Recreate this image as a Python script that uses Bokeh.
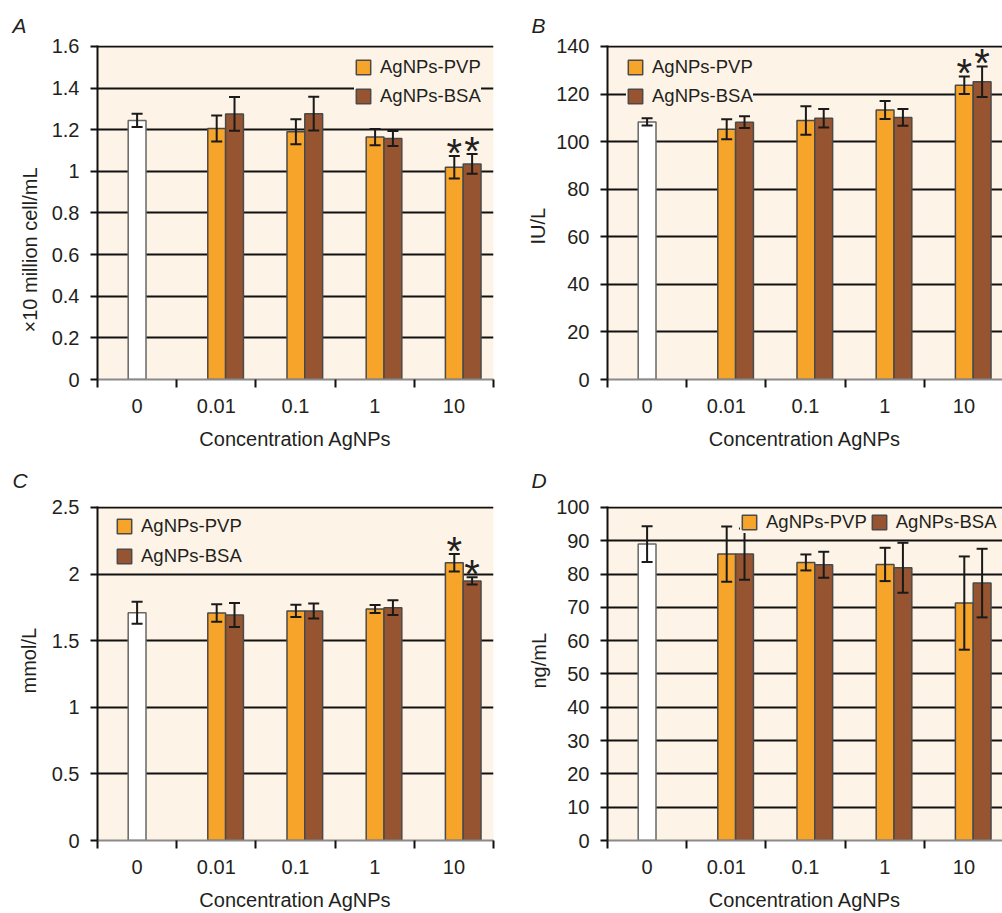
from bokeh.plotting import figure
from bokeh.layouts import row, column
from bokeh.models import (ColumnDataSource, FixedTicker, CustomJSTickFormatter, Whisker, TeeHead,
                          Legend, LegendItem, Range1d, Title)
from bokeh.core.properties import value
from bokeh.embed import file_html
from bokeh.resources import INLINE

# ---------------- data ----------------
categories = ["0", "0.01", "0.1", "1", "10"]
treated = ["0.01", "0.1", "1", "10"]
series_names = ["AgNPs-PVP", "AgNPs-BSA"]
x_title = "Concentration AgNPs"

# Panel A: x10 million cell/mL
a_ctrl = [1.245]
a_ctrl_err = [0.032]
a_pvp = [1.206, 1.19, 1.165, 1.02]
a_pvp_err = [0.063, 0.06, 0.039, 0.054]
a_bsa = [1.276, 1.277, 1.158, 1.036]
a_bsa_err = [0.081, 0.081, 0.036, 0.048]
a_pvp_sig = [False, False, False, True]
a_bsa_sig = [False, False, False, True]
a_yticks = [0, 0.2, 0.4, 0.6, 0.8, 1, 1.2, 1.4, 1.6]

# Panel B: IU/L
b_ctrl = [108.3]
b_ctrl_err = [1.5]
b_pvp = [105.2, 108.9, 113.3, 123.7]
b_pvp_err = [4.2, 6.0, 3.8, 3.7]
b_bsa = [108.2, 109.8, 110.2, 125.2]
b_bsa_err = [2.5, 3.9, 3.5, 6.4]
b_pvp_sig = [False, False, False, True]
b_bsa_sig = [False, False, False, True]
b_yticks = [0, 20, 40, 60, 80, 100, 120, 140]

# Panel C: mmol/L
c_ctrl = [1.71]
c_ctrl_err = [0.083]
c_pvp = [1.708, 1.723, 1.738, 2.085]
c_pvp_err = [0.065, 0.046, 0.03, 0.066]
c_bsa = [1.693, 1.723, 1.748, 1.949]
c_bsa_err = [0.09, 0.056, 0.055, 0.027]
c_pvp_sig = [False, False, False, True]
c_bsa_sig = [False, False, False, True]
c_yticks = [0, 0.5, 1, 1.5, 2, 2.5]

# Panel D: ng/mL
d_ctrl = [89.0]
d_ctrl_err = [5.4]
d_pvp = [86.0, 83.5, 82.9, 71.3]
d_pvp_err = [8.3, 2.4, 5.0, 14.0]
d_bsa = [86.0, 82.8, 81.9, 77.3]
d_bsa_err = [7.7, 3.9, 7.5, 10.3]
d_pvp_sig = [False, False, False, False]
d_bsa_sig = [False, False, False, False]
d_yticks = [0, 10, 20, 30, 40, 50, 60, 70, 80, 90, 100]

# ---------------- style ----------------
FONT = "Liberation Sans"
TXT = "#231f20"
BG = "#fdf4e7"
ORANGE = "#f6a42a"
BROWN = "#975430"
CTRL = "#ffffff"
EDGE = "#4a4a4a"
BAR_W = 0.225
PVP_OFF = 0.005
BSA_OFF = PVP_OFF + BAR_W
FRAME_H = 335


def make_panel(letter, ylabel, ymax, yticks, ctrl, ctrl_err, pvp, pvp_err, bsa, bsa_err,
               pvp_sig, bsa_sig, width, height, borders, x_end, legend_loc, legend_orient,
               legend_spacing, letter_off, letter_standoff, ylab_off, ylab_standoff,
               xlab_standoff):
    p = figure(width=width, height=height, x_range=Range1d(0, x_end),
               y_range=Range1d(0, ymax * (1 + 1.0 / FRAME_H)),
               output_backend="svg", toolbar_location=None,
               min_border_left=borders[0], min_border_right=borders[1],
               min_border_top=borders[2], min_border_bottom=borders[3])
    p.background_fill_color = BG
    p.border_fill_color = "white"
    p.outline_line_color = None
    p.xgrid.grid_line_color = None
    p.ygrid.grid_line_color = "#111111"
    p.ygrid.grid_line_width = 2
    p.ygrid.ticker = FixedTicker(ticks=yticks)

    # panel letter
    p.title.text = letter
    p.title.align = "left"
    p.title.offset = letter_off
    p.title.standoff = letter_standoff
    p.title.text_font = FONT
    p.title.text_font_size = "21px"
    p.title.text_font_style = "italic"
    p.title.text_color = TXT

    # control bar
    cx = [categories.index("0") + 0.5]
    src_c = ColumnDataSource(dict(x=cx, top=ctrl, upper=[v + e for v, e in zip(ctrl, ctrl_err)],
                                  lower=[v - e for v, e in zip(ctrl, ctrl_err)]))
    p.vbar(x="x", top="top", width=BAR_W, bottom=0, source=src_c,
           fill_color=CTRL, line_color="#666666", line_width=1.5)

    px = [categories.index(c) + 0.5 + PVP_OFF for c in treated]
    bx = [categories.index(c) + 0.5 + BSA_OFF for c in treated]
    src_p = ColumnDataSource(dict(x=px, top=pvp, upper=[v + e for v, e in zip(pvp, pvp_err)],
                                  lower=[v - e for v, e in zip(pvp, pvp_err)]))
    src_b = ColumnDataSource(dict(x=bx, top=bsa, upper=[v + e for v, e in zip(bsa, bsa_err)],
                                  lower=[v - e for v, e in zip(bsa, bsa_err)]))
    r_p = p.vbar(x="x", top="top", width=BAR_W, bottom=0, source=src_p,
                 fill_color=ORANGE, line_color=EDGE, line_width=1.5)
    r_b = p.vbar(x="x", top="top", width=BAR_W, bottom=0, source=src_b,
                 fill_color=BROWN, line_color=EDGE, line_width=1.5)

    for src in (src_c, src_p, src_b):
        w = Whisker(base="x", upper="upper", lower="lower", source=src, dimension="height",
                    line_color="#1a1a1a", line_width=2, level="annotation",
                    upper_head=TeeHead(size=11, line_width=2, line_color="#1a1a1a"),
                    lower_head=TeeHead(size=11, line_width=2, line_color="#1a1a1a"))
        p.add_layout(w)

    # significance asterisks
    sx, sy = [], []
    for x, v, e, s in zip(px, pvp, pvp_err, pvp_sig):
        if s:
            sx.append(x); sy.append(v + e)
    for x, v, e, s in zip(bx, bsa, bsa_err, bsa_sig):
        if s:
            sx.append(x); sy.append(v + e)
    if sx:
        p.text(x=sx, y=sy, text=["*"] * len(sx), text_align="center", text_baseline="alphabetic",
               y_offset=-3, text_font=value(FONT), text_font_size=value("40px"),
               text_color=TXT)

    # axes
    xa = p.xaxis[0]
    xa.ticker = FixedTicker(ticks=[i + 0.5 for i in range(len(categories))],
                            minor_ticks=list(range(len(categories) + 1)))
    xa.formatter = CustomJSTickFormatter(args=dict(labels=categories),
                                         code="return labels[Math.floor(tick)];")
    xa.axis_line_color = "#8a8a8a"
    xa.axis_line_width = 2
    xa.major_tick_line_color = None
    xa.major_tick_out = 0
    xa.major_tick_in = 0
    xa.minor_tick_line_color = "#111111"
    xa.minor_tick_line_width = 2
    xa.minor_tick_out = 8
    xa.minor_tick_in = 0
    xa.major_label_standoff = 11
    xa.major_label_text_font = FONT
    xa.major_label_text_font_size = "20px"
    xa.major_label_text_color = TXT
    xa.axis_label = x_title
    xa.axis_label_text_font = FONT
    xa.axis_label_text_font_size = "20px"
    xa.axis_label_text_font_style = "normal"
    xa.axis_label_text_color = TXT
    xa.axis_label_standoff = xlab_standoff

    ya = p.yaxis[0]
    ya.ticker = FixedTicker(ticks=yticks)
    ya.formatter = CustomJSTickFormatter(code="return String(Math.round(tick*100)/100);")
    ya.axis_line_color = "#111111"
    ya.axis_line_width = 2
    ya.major_tick_line_color = "#111111"
    ya.major_tick_line_width = 2
    ya.major_tick_out = 7
    ya.major_tick_in = 0
    ya.minor_tick_line_color = None
    ya.major_label_standoff = 11
    ya.major_label_text_font = FONT
    ya.major_label_text_font_size = "20px"
    ya.major_label_text_color = TXT

    p.add_layout(Title(text=ylabel, align="left", offset=ylab_off, standoff=ylab_standoff,
                       text_font=FONT, text_font_size="20px", text_font_style="normal",
                       text_color=TXT), "left")

    legend = Legend(items=[LegendItem(label=series_names[0], renderers=[r_p]),
                           LegendItem(label=series_names[1], renderers=[r_b])],
                    location=legend_loc, orientation=legend_orient,
                    background_fill_color=BG, background_fill_alpha=1.0,
                    border_line_color=None, padding=4, margin=0, spacing=legend_spacing,
                    glyph_width=18, glyph_height=18, label_standoff=8, label_height=20,
                    label_text_font=FONT, label_text_font_size="18.5px", label_text_color=TXT)
    p.add_layout(legend)
    return p


cat_w = 396 / 5.0
pA = make_panel("A", "\u00d710 million cell/mL", 1.6, a_yticks, a_ctrl, a_ctrl_err, a_pvp, a_pvp_err,
                a_bsa, a_bsa_err, a_pvp_sig, a_bsa_sig, 500, 452, (97, 7, 45, 72), 5,
                (257, 272), "vertical", 7, -85, 18, 47, 16, 12)
pB = make_panel("B", "IU/L", 140, b_yticks, b_ctrl, b_ctrl_err, b_pvp, b_pvp_err,
                b_bsa, b_bsa_err, b_pvp_sig, b_bsa_sig, 502, 452, (107, 0, 45, 72), 395 / cat_w,
                (19, 272), "vertical", 7, -76, 18, 135, 9, 12)
pC = make_panel("C", "mmol/L", 2.5, c_yticks, c_ctrl, c_ctrl_err, c_pvp, c_pvp_err,
                c_bsa, c_bsa_err, c_pvp_sig, c_bsa_sig, 500, 461, (97, 7, 53, 73), 5,
                (18, 273), "vertical", 8, -85, 29, 147, 17, 12)
pD = make_panel("D", "ng/mL", 100, d_yticks, d_ctrl, d_ctrl_err, d_pvp, d_pvp_err,
                d_bsa, d_bsa_err, d_pvp_sig, d_bsa_sig, 502, 461, (107, 0, 53, 73), 395 / cat_w,
                (133, 307), "horizontal", 3, -76, 29, 152, 8, 12)

layout = column(row(pA, pB), row(pC, pD))
open("out.html", "w").write(file_html(layout, INLINE))
